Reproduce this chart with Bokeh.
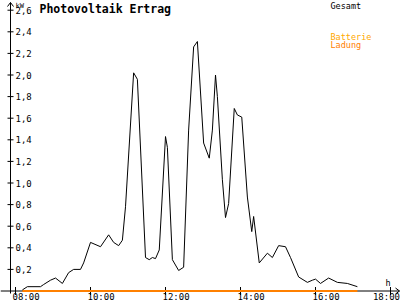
from bokeh.plotting import figure
from bokeh.models import Range1d
from bokeh.core.properties import value
from bokeh.embed import file_html
from bokeh.resources import INLINE

# ---- data ----
times = ["08:11", "08:19", "08:40", "08:45", "08:56", "09:04", "09:15", "09:25", "09:33", "09:44",
         "09:49", "10:00", "10:16", "10:29", "10:37", "10:45", "10:51", "10:56", "11:09", "11:15",
         "11:28", "11:34", "11:39", "11:44", "11:50", "12:00", "12:03", "12:11", "12:21", "12:29",
         "12:37", "12:45", "12:51", "13:01", "13:10", "13:15", "13:20", "13:23", "13:31", "13:36",
         "13:41", "13:50", "13:55", "14:02", "14:11", "14:18", "14:21", "14:30", "14:43", "14:51",
         "15:01", "15:12", "15:20", "15:33", "15:47", "15:55", "16:00", "16:08", "16:21", "16:35",
         "16:51", "17:07"]
gesamt_kw = [0.01, 0.04, 0.04, 0.06, 0.10, 0.12, 0.07, 0.17, 0.20, 0.20,
             0.26, 0.45, 0.41, 0.52, 0.45, 0.42, 0.47, 0.78, 2.02, 1.96,
             0.31, 0.29, 0.31, 0.30, 0.38, 1.43, 1.33, 0.29, 0.19, 0.22,
             1.49, 2.26, 2.31, 1.37, 1.23, 1.49, 2.00, 1.80, 1.03, 0.68,
             0.81, 1.69, 1.63, 1.61, 0.87, 0.55, 0.69, 0.26, 0.35, 0.31,
             0.42, 0.41, 0.31, 0.13, 0.08, 0.10, 0.11, 0.07, 0.12, 0.08,
             0.07, 0.04]
batterie_times = ["08:11", "17:07"]
batterie_kw = [0.0, 0.0]

y_ticks = [0.2, 0.4, 0.6, 0.8, 1.0, 1.2, 1.4, 1.6, 1.8, 2.0, 2.2, 2.4, 2.6]
y_tick_labels = ["0,2", "0,4", "0,6", "0,8", "1,0", "1,2", "1,4", "1,6", "1,8", "2,0", "2,2", "2,4", "2,6"]
x_ticks = [8, 10, 12, 14, 16, 18]
x_tick_labels = ["08:00", "10:00", "12:00", "14:00", "16:00", "18:00"]

title = "Photovoltaik Ertrag"
legend_labels = ["Gesamt", "Batterie", "Ladung"]


def to_h(t):
    hh, mm = t.split(":")
    return int(hh) + int(mm) / 60.0


# ---- layout (pixels -> data) ----
PX_X = 1 / 37.5     # hours per pixel
PX_Y = 1 / 108.0    # kW per pixel
X0 = 7.6
Y0 = -9.5 * PX_Y

p = figure(width=400, height=300, output_backend="svg", toolbar_location=None,
           x_range=Range1d(X0, X0 + 400 * PX_X), y_range=Range1d(Y0, Y0 + 300 * PX_Y),
           min_border=0)
p.axis.visible = False
p.grid.visible = False
p.outline_line_color = None
p.background_fill_color = "white"

font = value("DejaVu Sans Mono")
ax_x = X0 + 10 * PX_X

# axes lines
top = Y0 + 298 * PX_Y
right = X0 + 399 * PX_X
p.segment(x0=[ax_x, X0], y0=[-2.5 * PX_Y, 0],
          x1=[ax_x, right], y1=[top, 0], line_color="black", line_width=1)
# arrow heads
p.segment(x0=[ax_x - 3 * PX_X, ax_x + 3 * PX_X], y0=[top - 4 * PX_Y, top - 4 * PX_Y],
          x1=[ax_x, ax_x], y1=[top, top], line_color="black", line_width=1)
p.segment(x0=[right - 4 * PX_X, right - 4 * PX_X], y0=[3 * PX_Y, -3 * PX_Y],
          x1=[right, right], y1=[0, 0], line_color="black", line_width=1)

# y ticks
p.segment(x0=[ax_x - 3 * PX_X] * len(y_ticks), y0=y_ticks,
          x1=[ax_x + 3 * PX_X] * len(y_ticks), y1=y_ticks, line_color="black", line_width=1)
p.text(x=[X0 + 15 * PX_X] * len(y_ticks), y=y_ticks, text=y_tick_labels,
       text_font=font, text_font_size="9px", text_align="left", text_baseline="middle",
       text_color="black")

# x ticks
p.segment(x0=x_ticks, y0=[-4 * PX_Y] * len(x_ticks), x1=x_ticks, y1=[4 * PX_Y] * len(x_ticks),
          line_color="black", line_width=1)
p.text(x=[t - 3 * PX_X for t in x_ticks[:-1]], y=[-5.5 * PX_Y] * (len(x_ticks) - 1),
       text=x_tick_labels[:-1],
       text_font=font, text_font_size="9px", text_align="left", text_baseline="middle",
       text_color="black")
# last label kept inside the window (reference shows it running off the edge)
p.text(x=[X0 + 399.5 * PX_X], y=[-5.5 * PX_Y], text=x_tick_labels[-1:],
       text_font=font, text_font_size="9px", text_align="right", text_baseline="middle",
       text_color="black")

# series
p.line([to_h(t) for t in batterie_times], batterie_kw, line_color="#FF8000", line_width=2)
p.line([to_h(t) for t in times], gesamt_kw, line_color="black", line_width=1)

# texts
p.text(x=[X0 + 15 * PX_X], y=[Y0 + 295 * PX_Y], text=["kW"], text_font=font,
       text_font_size="7px", text_align="left", text_baseline="middle", text_color="black")
p.text(x=[X0 + 39 * PX_X], y=[Y0 + 291.5 * PX_Y], text=[title], text_font=font,
       text_font_size="11.5px", text_font_style="bold", text_align="left",
       text_baseline="middle", text_color="black")
p.text(x=[X0 + 330 * PX_X] * 3,
       y=[Y0 + 295 * PX_Y, Y0 + 264 * PX_Y, Y0 + 256 * PX_Y], text=legend_labels,
       text_font=font, text_font_size="8.5px", text_align="left", text_baseline="middle",
       text_color=["black", "#FFA800", "#FF8000"])
p.text(x=[X0 + 385 * PX_X], y=[Y0 + 18 * PX_Y], text=["h"], text_font=font,
       text_font_size="8.5px", text_align="left", text_baseline="middle", text_color="black")

open("out.html", "w").write(file_html(p, INLINE))
